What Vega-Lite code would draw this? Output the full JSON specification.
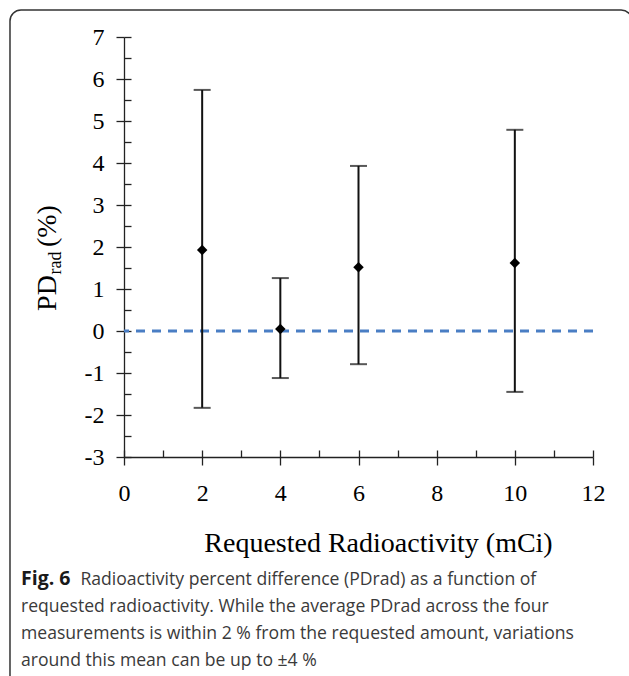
{
  "$schema": "https://vega.github.io/schema/vega-lite/v6.json",
  "width": 469,
  "height": 420,
  "autosize": {"type": "none"},
  "padding": {"left": 124, "top": 37, "right": 36, "bottom": 219},
  "background": "white",
  "config": {
    "view": {"stroke": null},
    "axis": {"grid": false, "labelFlush": false, "labelOverlap": false, "labelBound": false}
  },
  "title": {
    "text": "Fig. 6",
    "orient": "bottom",
    "anchor": "start",
    "frame": "group",
    "dx": -103,
    "offset": -140,
    "font": "Open Sans",
    "fontSize": 19.5,
    "fontWeight": "bold",
    "color": "#1a1a1a",
    "subtitle": [
      "\u200b\u00a0\u00a0\u00a0\u00a0\u00a0\u00a0\u00a0\u00a0\u00a0\u00a0\u00a0\u00a0\u00a0Radioactivity percent difference (PDrad) as a function of",
      "requested radioactivity. While the average PDrad across the four",
      "measurements is within 2 % from the requested amount, variations",
      "around this mean can be up to \u00b14 %"
    ],
    "subtitleFont": "Open Sans",
    "subtitleFontSize": 17.6,
    "subtitleFontWeight": "normal",
    "subtitleColor": "#3a3a3a",
    "subtitleLineHeight": 26.8,
    "subtitlePadding": -18
  },
  "data": {
    "values": [
      {"activity": 2, "mean": 1.93, "lower": -1.83, "upper": 5.74},
      {"activity": 4, "mean": 0.05, "lower": -1.12, "upper": 1.26},
      {"activity": 6, "mean": 1.52, "lower": -0.79, "upper": 3.93},
      {"activity": 10, "mean": 1.62, "lower": -1.45, "upper": 4.79}
    ]
  },
  "resolve": {"axis": {"x": "independent", "y": "independent"}},
  "layer": [
    {
      "data": {"values": [{"frame": 1}]},
      "mark": {"type": "rect", "filled": false, "color": "#333333", "strokeWidth": 1.5, "cornerRadius": 11, "clip": false},
      "encoding": {
        "x": {"datum": -2.917, "type": "quantitative", "scale": {"domain": [0, 12], "nice": false, "zero": false}, "axis": null},
        "x2": {"datum": 13},
        "y": {"datum": 7.643, "type": "quantitative", "scale": {"domain": [-3, 7], "nice": false, "zero": false}, "axis": null},
        "y2": {"datum": -9}
      }
    },
    {
      "data": {"values": [{"ref": 0}]},
      "mark": {"type": "rule", "color": "#4a7ec4", "strokeWidth": 3, "strokeDash": [9, 7]},
      "encoding": {
        "y": {"field": "ref", "type": "quantitative", "scale": {"domain": [-3, 7], "nice": false, "zero": false}, "axis": null}
      }
    },
    {
      "mark": {"type": "rule", "color": "#111111", "strokeWidth": 2},
      "encoding": {
        "x": {
          "field": "activity", "type": "quantitative",
          "scale": {"domain": [0, 12], "nice": false, "zero": false},
          "axis": {
            "orient": "bottom",
            "values": [0, 2, 4, 6, 8, 10, 12],
            "tickSize": 8, "tickWidth": 1.3, "tickColor": "#222222",
            "domain": true, "domainColor": "#222222", "domainWidth": 1.3,
            "labelFont": "Liberation Serif", "labelFontSize": 24, "labelColor": "#000000", "labelPadding": 16,
            "title": "Requested Radioactivity (mCi)",
            "titleFont": "Liberation Serif", "titleFontSize": 28, "titleFontWeight": "normal", "titleColor": "#000000",
            "titleX": 254, "titleY": 94, "titleBaseline": "alphabetic", "titleAlign": "center"
          }
        },
        "y": {
          "field": "lower", "type": "quantitative",
          "scale": {"domain": [-3, 7], "nice": false, "zero": false},
          "axis": {
            "orient": "left",
            "values": [-3, -2, -1, 0, 1, 2, 3, 4, 5, 6, 7],
            "tickSize": 8, "tickWidth": 1.3, "tickColor": "#222222",
            "domain": true, "domainColor": "#222222", "domainWidth": 1.3,
            "labelFont": "Liberation Serif", "labelFontSize": 24, "labelColor": "#000000", "labelPadding": 12,
            "labelExpr": "datum.value < 0 ? '-' + abs(datum.value) : '' + datum.value",
            "title": "PD\u00a0\u00a0\u00a0\u00a0(%)",
            "titleFont": "Liberation Serif", "titleFontSize": 28, "titleFontWeight": "normal", "titleColor": "#000000",
            "titleAngle": 270,
            "titleX": -69, "titleY": 220.5, "titleBaseline": "alphabetic", "titleAlign": "center"
          }
        },
        "y2": {"field": "upper"}
      }
    },
    {
      "mark": {"type": "tick", "orient": "horizontal", "size": 17, "thickness": 2, "color": "#111111"},
      "encoding": {
        "x": {"field": "activity", "type": "quantitative", "scale": {"domain": [0, 12], "nice": false, "zero": false}, "axis": null},
        "y": {"field": "upper", "type": "quantitative", "scale": {"domain": [-3, 7], "nice": false, "zero": false}, "axis": null}
      }
    },
    {
      "mark": {"type": "tick", "orient": "horizontal", "size": 17, "thickness": 2, "color": "#111111"},
      "encoding": {
        "x": {"field": "activity", "type": "quantitative", "scale": {"domain": [0, 12], "nice": false, "zero": false}, "axis": null},
        "y": {"field": "lower", "type": "quantitative", "scale": {"domain": [-3, 7], "nice": false, "zero": false}, "axis": null}
      }
    },
    {
      "mark": {"type": "point", "shape": "diamond", "filled": true, "size": 110, "color": "#000000", "opacity": 1},
      "encoding": {
        "x": {
          "field": "activity", "type": "quantitative",
          "scale": {"domain": [0, 12], "nice": false, "zero": false},
          "axis": {
            "orient": "bottom",
            "values": [0, 1, 2, 3, 4, 5, 6, 7, 8, 9, 10, 11, 12],
            "tickSize": -7, "tickWidth": 1.3, "tickColor": "#222222",
            "domain": false, "labels": false, "title": null
          }
        },
        "y": {
          "field": "mean", "type": "quantitative",
          "scale": {"domain": [-3, 7], "nice": false, "zero": false},
          "axis": {
            "orient": "left",
            "values": [-3, -2.5, -2, -1.5, -1, -0.5, 0, 0.5, 1, 1.5, 2, 2.5, 3, 3.5, 4, 4.5, 5, 5.5, 6, 6.5, 7],
            "tickSize": -7, "tickWidth": 1.3, "tickColor": "#222222",
            "domain": false, "labels": false,
            "title": "rad",
            "titleFont": "Liberation Serif", "titleFontSize": 18, "titleFontWeight": "normal", "titleColor": "#000000",
            "titleAngle": 270,
            "titleX": -64, "titleY": 225.5, "titleBaseline": "alphabetic", "titleAlign": "center"
          }
        }
      }
    }
  ]
}
